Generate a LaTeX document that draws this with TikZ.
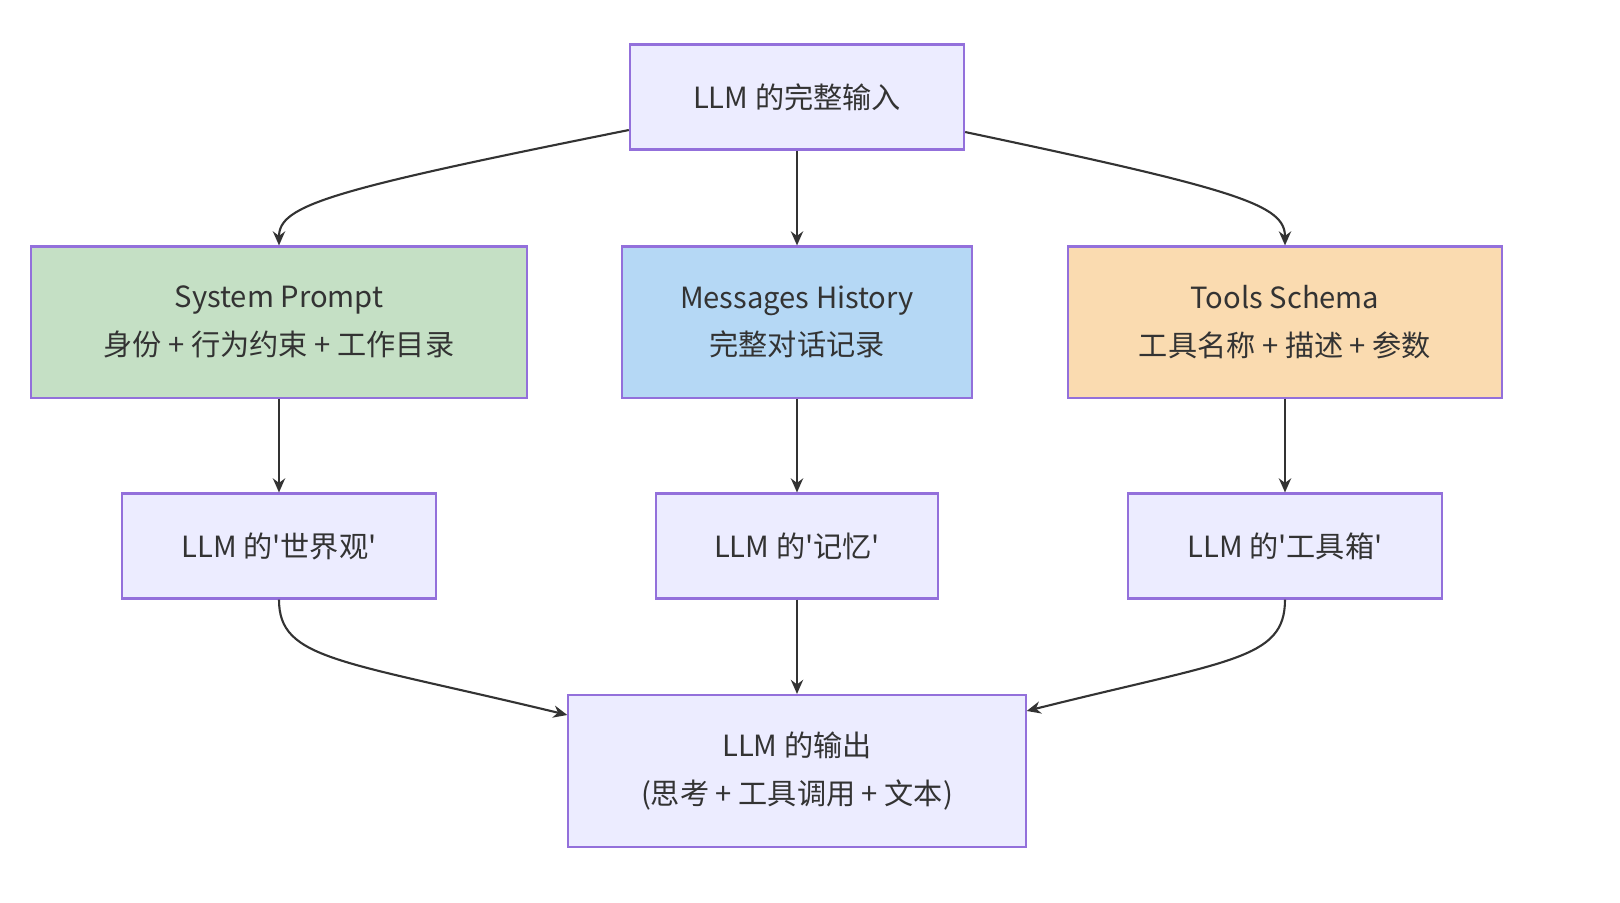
\documentclass[tikz,border=0pt]{standalone}
\usepackage{fontspec}
\setmainfont{Noto Sans CJK SC}
\newfontfamily\quotefont{Noto Sans CJK SC}
\usetikzlibrary{arrows.meta,positioning}
\definecolor{boxfill}{HTML}{ECECFF}
\definecolor{boxline}{HTML}{9370DB}
\definecolor{ink}{HTML}{333333}
\definecolor{sysfill}{HTML}{C5E0C5}
\definecolor{msgfill}{HTML}{B5D8F5}
\definecolor{toolfill}{HTML}{FADBB0}
\newcommand{\sq}{{\quotefont '}}
\tikzset{
  box/.style={draw=boxline, fill=boxfill, line width=0.6pt, text=ink,
    align=center, inner sep=0pt, font=\fontsize{8.3}{13.5}\selectfont},
  link/.style={draw=ink, line width=0.6pt, -{Stealth[length=4pt,width=3.5pt]}}
}
\begin{document}
\begin{tikzpicture}[x=0.01cm,y=-0.01cm]
\useasboundingbox (0,0) rectangle (1620,902);
% top
\node[box, minimum width=3.34cm, minimum height=1.05cm] (input) at (797,97) {LLM 的完整输入};
% middle row
\node[box, fill=sysfill, minimum width=4.96cm, minimum height=1.51cm] (sys) at (279,322) {System Prompt\\身份 + 行为约束 + 工作目录};
\node[box, fill=msgfill, minimum width=3.49cm, minimum height=1.51cm] (msg) at (797,322) {Messages History\\完整对话记录};
\node[box, fill=toolfill, minimum width=4.34cm, minimum height=1.51cm] (tool) at (1285,322) {Tools Schema\\工具名称 + 描述 + 参数};
% meaning row
\node[box, minimum width=3.13cm, minimum height=1.05cm] (world) at (279,546) {LLM 的\sq 世界观\sq};
\node[box, minimum width=2.82cm, minimum height=1.05cm] (memory) at (797,546) {LLM 的\sq 记忆\sq};
\node[box, minimum width=3.13cm, minimum height=1.05cm] (toolbox) at (1285,546) {LLM 的\sq 工具箱\sq};
% output
\node[box, minimum width=4.57cm, minimum height=1.52cm] (output) at (797,771) {LLM 的输出\\(思考 + 工具调用 + 文本)};
\coordinate (inL) at ([yshift=-0.33cm]input.west);
\coordinate (inR) at ([yshift=-0.35cm]input.east);
\coordinate (outL) at ([yshift=0.56cm]output.west);
\coordinate (outR) at ([yshift=0.6cm]output.east);
\draw[link] (inL) .. controls (330,190) and (279,205) .. (sys.north);
\draw[link] (input) -- (msg);
\draw[link] (inR) .. controls (1240,190) and (1285,205) .. (tool.north);
\draw[link] (sys) -- (world);
\draw[link] (msg) -- (memory);
\draw[link] (tool) -- (toolbox);
\draw[link] (world.south) .. controls (279,660) and (340,660) .. (outL);
\draw[link] (memory) -- (output);
\draw[link] (toolbox.south) .. controls (1285,660) and (1230,660) .. (outR);
\end{tikzpicture}
\end{document}
